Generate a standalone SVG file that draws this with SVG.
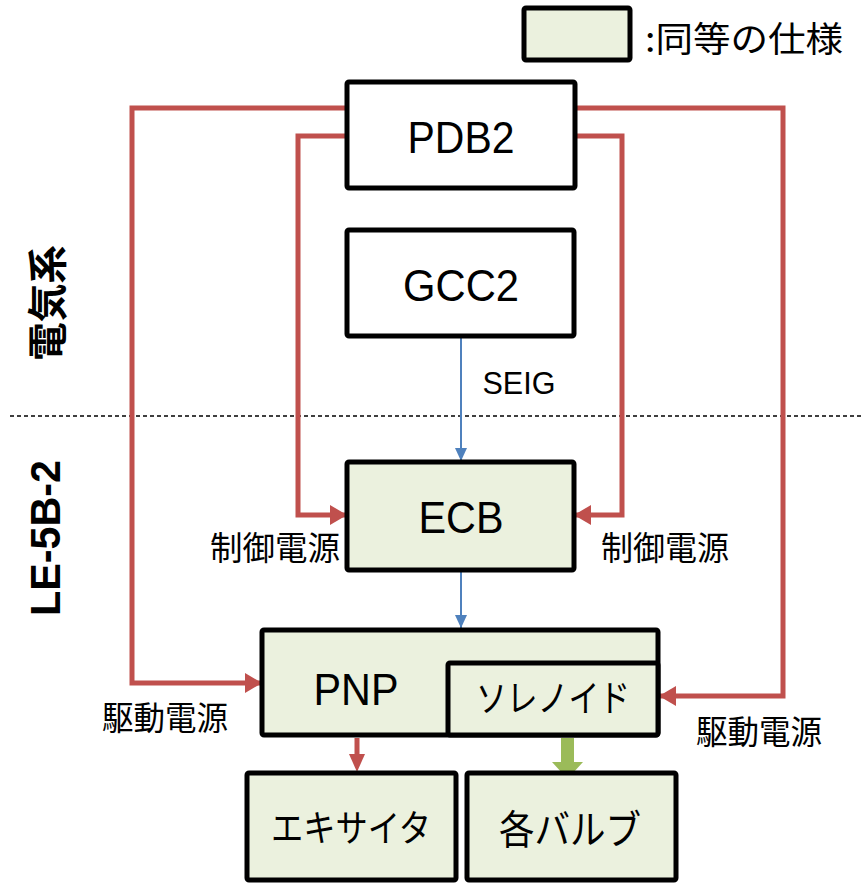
<svg xmlns="http://www.w3.org/2000/svg" width="864" height="883" viewBox="0 0 864 883">
<style>
.box{stroke:#000;stroke-width:5;stroke-linejoin:round}
.w{fill:#fff}
.g{fill:#EBF1DE}
.en{font-family:"Liberation Sans",Arial,sans-serif;fill:#000}
.jp{font-family:"Noto Sans CJK JP","Noto Sans",sans-serif;fill:#000}
.red{fill:none;stroke:#C0504D;stroke-width:5}
.blue{fill:none;stroke:#4F81BD;stroke-width:2}
</style>
<defs>
<marker id="ar" markerUnits="userSpaceOnUse" markerWidth="18" markerHeight="20" refX="17" refY="10" orient="auto">
<path d="M0,0 L17,10 L0,20 z" fill="#C0504D"/>
</marker>
<marker id="ab" markerUnits="userSpaceOnUse" markerWidth="14" markerHeight="12" refX="13" refY="6" orient="auto">
<path d="M0,0 L13,6 L0,12 z" fill="#4F81BD"/>
</marker>
</defs>
<rect width="864" height="883" fill="#fff"/>
<line x1="10" y1="416" x2="864" y2="416" stroke="#000" stroke-width="1.5" stroke-dasharray="4,3"/>
<text class="jp" x="45" y="303" font-size="40" font-weight="bold" text-anchor="middle" dominant-baseline="central" textLength="116" lengthAdjust="spacingAndGlyphs" transform="rotate(-90 45 303)">電気系</text>
<text class="en" x="45" y="538" font-size="42" font-weight="bold" text-anchor="middle" dominant-baseline="central" textLength="156" lengthAdjust="spacingAndGlyphs" transform="rotate(-90 45 538)">LE-5B-2</text>
<g id="legend">
<rect class="box g" x="524" y="8" width="106" height="52" rx="2"/>
<text class="jp" x="645" y="52" font-size="35" textLength="198" lengthAdjust="spacingAndGlyphs">:同等の仕様</text>
</g>
<g id="connectors">
<path class="red" d="M347,108 H132 V683 H262" marker-end="url(#ar)"/>
<path class="red" d="M347,136 H298 V515 H347" marker-end="url(#ar)"/>
<path class="red" d="M575,136 H622 V515 H574" marker-end="url(#ar)"/>
<path class="red" d="M575,108 H783 V696 H659" marker-end="url(#ar)"/>
<path class="blue" d="M461,337 V461" marker-end="url(#ab)"/>
<path class="blue" d="M461,572 V628" marker-end="url(#ab)"/>
<path d="M357,738 V754" stroke="#C0504D" stroke-width="5" fill="none"/>
<path d="M349,754 H365 L357,772 z" fill="#C0504D"/>
<path d="M561,738 H574 V762 H583 L567.5,779 L552,762 H561 z" fill="#9BBB59"/>
<text class="en" x="519" y="394" font-size="31" text-anchor="middle" textLength="73" lengthAdjust="spacingAndGlyphs">SEIG</text>
<text class="jp" x="275" y="560" font-size="33" text-anchor="middle" textLength="130" lengthAdjust="spacingAndGlyphs">制御電源</text>
<text class="jp" x="665" y="560" font-size="33" text-anchor="middle" textLength="128" lengthAdjust="spacingAndGlyphs">制御電源</text>
<text class="jp" x="165" y="730" font-size="33" text-anchor="middle" textLength="126" lengthAdjust="spacingAndGlyphs">駆動電源</text>
<text class="jp" x="759" y="744" font-size="33" text-anchor="middle" textLength="126" lengthAdjust="spacingAndGlyphs">駆動電源</text>
</g>
<g id="PDB2">
<rect class="box w" x="347" y="82" width="228" height="106" rx="2"/>
<text class="en" x="461" y="153" font-size="44" text-anchor="middle" textLength="107" lengthAdjust="spacingAndGlyphs">PDB2</text>
</g>
<g id="GCC2">
<rect class="box w" x="347" y="230" width="227" height="106" rx="2"/>
<text class="en" x="461" y="301" font-size="44" text-anchor="middle" textLength="116" lengthAdjust="spacingAndGlyphs">GCC2</text>
</g>
<g id="ECB">
<rect class="box g" x="347" y="462" width="227" height="108" rx="2"/>
<text class="en" x="461" y="533" font-size="44" text-anchor="middle" textLength="85" lengthAdjust="spacingAndGlyphs">ECB</text>
</g>
<g id="PNP">
<rect class="box g" x="262" y="630" width="396" height="105" rx="2"/>
<text class="en" x="356" y="705" font-size="44" text-anchor="middle" textLength="85" lengthAdjust="spacingAndGlyphs">PNP</text>
</g>
<g id="solenoid">
<rect class="box g" x="448" y="663" width="210" height="72" rx="2"/>
<text class="jp" x="553" y="712" font-size="37" text-anchor="middle" textLength="154" lengthAdjust="spacingAndGlyphs">ソレノイド</text>
</g>
<g id="exciter">
<rect class="box g" x="247" y="773" width="209" height="107" rx="2"/>
<text class="jp" x="351" y="842" font-size="37" text-anchor="middle" textLength="160" lengthAdjust="spacingAndGlyphs">エキサイタ</text>
</g>
<g id="valves">
<rect class="box g" x="467" y="773" width="209" height="107" rx="2"/>
<text class="jp" x="570" y="844" font-size="40" text-anchor="middle" textLength="142" lengthAdjust="spacingAndGlyphs">各バルブ</text>
</g>
</svg>
